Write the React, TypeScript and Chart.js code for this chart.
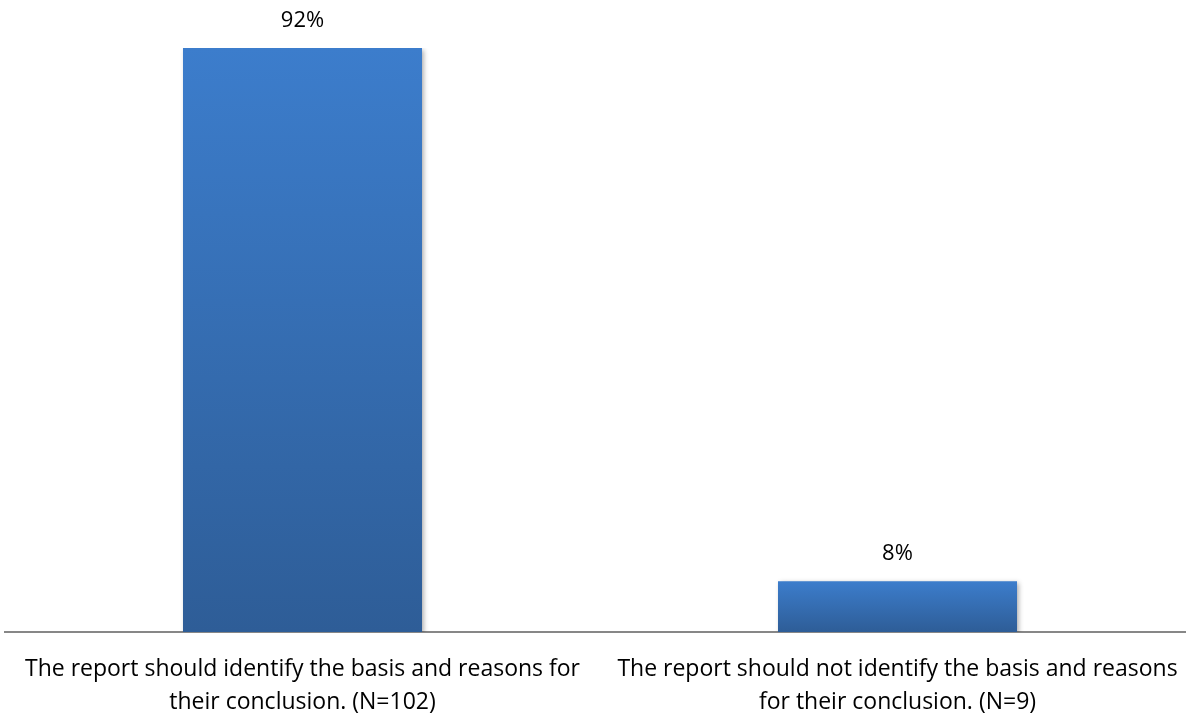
import React, { useEffect, useRef } from "react";
import { Chart, registerables } from "chart.js";

Chart.register(...registerables);

const categories: string[][] = [
  ["The report should identify the basis and reasons for", "their conclusion. (N=102)"],
  ["The report should not identify the basis and reasons", "for their conclusion. (N=9)"],
];
const values: number[] = [92, 8];
const valueLabels: string[] = ["92%", "8%"];

const FONT = "'Open Sans', sans-serif";
const TICK_SIZE = 23;
const LABEL_SIZE = 22;

const barGradient = (ctx: any) => {
  const chart = ctx.chart;
  const { chartArea } = chart;
  if (!chartArea || ctx.raw === undefined) return "#3a78c6";
  const yScale = chart.scales.y;
  const top = yScale.getPixelForValue(ctx.raw);
  const base = yScale.getPixelForValue(0);
  const g = chart.ctx.createLinearGradient(0, top, 0, base);
  g.addColorStop(0, "#3c7dcc");
  g.addColorStop(1, "#2e5d97");
  return g;
};

const shadowPlugin = {
  id: "barShadow",
  beforeDatasetsDraw(chart: any) {
    const c = chart.ctx;
    c.save();
    c.shadowColor = "rgba(0,0,0,0.35)";
    c.shadowBlur = 5;
    c.shadowOffsetX = 2;
    c.shadowOffsetY = 2;
  },
  afterDatasetsDraw(chart: any) {
    chart.ctx.restore();
    const c = chart.ctx;
    const meta = chart.getDatasetMeta(0);
    c.save();
    c.fillStyle = "#000000";
    c.font = `${LABEL_SIZE}px ${FONT}`;
    c.textAlign = "center";
    c.textBaseline = "middle";
    meta.data.forEach((el: any, i: number) => {
      c.fillText(valueLabels[i], el.x, el.y - 27);
    });
    c.restore();
  },
};

export default function App() {
  const ref = useRef<HTMLCanvasElement>(null);
  useEffect(() => {
    if (!ref.current) return;
    const chart = new Chart(ref.current, {
      type: "bar",
      data: {
        labels: categories,
        datasets: [
          {
            data: values,
            backgroundColor: barGradient,
            borderWidth: 0,
            barPercentage: 0.4017,
            categoryPercentage: 1,
          },
        ],
      },
      options: {
        animation: false,
        responsive: false,
        devicePixelRatio: 1,
        layout: { padding: { top: 48, left: 5, right: 0, bottom: 0 } },
        plugins: { legend: { display: false }, tooltip: { enabled: false } },
        scales: {
          x: {
            grid: { display: false },
            border: { display: true, color: "#878787", width: 2 },
            ticks: {
              color: "#000000",
              font: { family: FONT, size: TICK_SIZE, lineHeight: 33 / TICK_SIZE },
              padding: 13,
              maxRotation: 0,
              autoSkip: false,
            },
            afterFit: (scale: any) => {
              scale.height = 81;
            },
          },
          y: {
            display: false,
            min: 0,
            max: 92,
          },
        },
      },
      plugins: [shadowPlugin],
    });
    return () => chart.destroy();
  }, []);
  return (
    <div style={{ position: "fixed", left: 0, top: 0, width: 1186, height: 713, overflow: "hidden", background: "#fff" }}>
      <canvas ref={ref} width={1195} height={713} style={{ display: "block", width: 1195, height: 713 }} />
    </div>
  );
}
